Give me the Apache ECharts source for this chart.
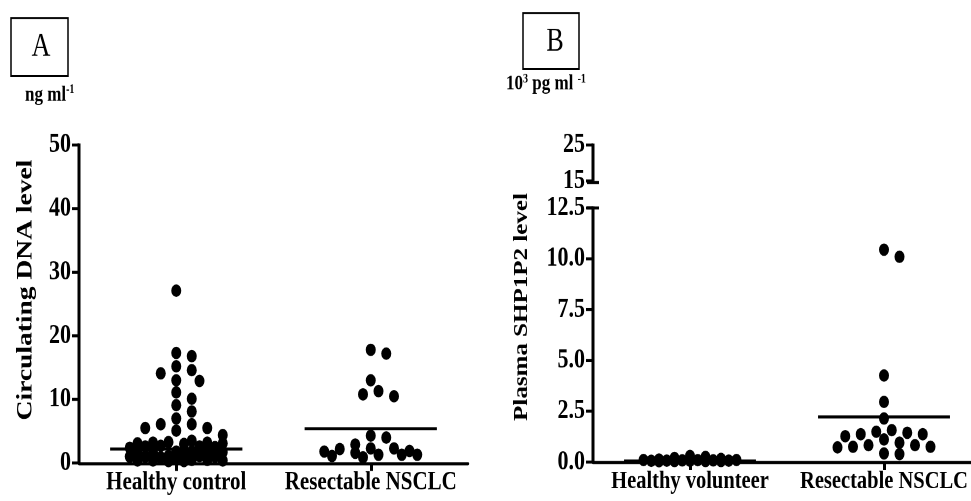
<!DOCTYPE html>
<html>
<head>
<meta charset="utf-8">
<script src="https://cdn.jsdelivr.net/npm/echarts@6/dist/echarts.min.js"></script>
<style>
  html, body { margin: 0; padding: 0; background: #fff; overflow: hidden; }
  #wrap { width: 971px; height: 501px; overflow: hidden; position: relative; }
  /* the figure is drawn 1.25x taller than wide, like the printed plate */
  #chart { width: 971px; height: 401px; transform: scaleY(1.25); transform-origin: 0 0; }
</style>
</head>
<body>
<div id="wrap"><div id="chart"></div></div>
<script>
// ---------------- data ----------------
const catsA = ['Healthy control', 'Resectable NSCLC'];
const healthyA = [27.1, 17.3, 16.8, 15.2, 14.6, 14.1, 13.0, 12.9, 11.1, 10.1, 9.1, 8.1, 7.0,
  6.1, 6.1, 5.5, 5.5, 5.1, 4.4, 3.5,
  3.3, 3.2, 3.1, 3.2, 3.0, 3.1,
  2.6, 2.5, 2.7, 2.4, 2.6,
  1.8, 1.7, 1.6, 1.8, 1.7, 1.5, 1.7,
  1.1, 1.0, 0.9, 1.0, 1.1, 0.8, 1.0,
  0.5, 0.4, 0.3, 0.4, 0.5, 0.3, 0.4];
const nsclcA = [17.8, 17.2, 13.0, 11.3, 10.8, 10.5, 4.3, 4.0, 2.9, 2.3, 2.3, 2.2, 1.9, 1.8,
  1.6, 1.3, 1.3, 1.3, 1.1, 0.9];
const meanA = [2.2, 5.4];
const ticksA = [0, 10, 20, 30, 40, 50];

const catsB = ['Healthy volunteer', 'Resectable NSCLC'];
const healthyB = [0.08, 0.05, 0.10, 0.06, 0.04, 0.12, 0.07, 0.05, 0.09, 0.20, 0.06, 0.08,
  0.15, 0.05, 0.07, 0.10, 0.30, 0.25];
const nsclcB = [10.45, 10.1, 4.26, 2.96, 2.14, 1.57, 1.49, 1.44, 1.37, 1.37, 1.27, 1.11, 0.95,
  0.83, 0.83, 0.75, 0.75, 0.72, 0.42, 0.39];
const meanB = [0.05, 2.22];
const ticksB = [0, 2.5, 5.0, 7.5, 10.0, 12.5];
const ticksBUpper = [15, 25];

// ---------------- layout (page pixels) ----------------
const S = 1.25;                 // vertical stretch of the drawing
const v = px => px / S;         // page y -> drawing y
const FONT = "'Liberation Serif', 'Times New Roman', serif";

const boxA  = { left: 79,  top: 145, width: 389, height: 318 };
const boxB  = { left: 593, top: 208, width: 388, height: 254 };
const boxBU = { left: 593, top: 145, width: 388, height: 36 };

function grid(b) {
  return { left: b.left, top: v(b.top), width: b.width, height: v(b.height),
           outerBoundsMode: 'none', containLabel: false };
}

// column-scatter placement: each point takes the nearest free slot beside the centre
function swarmOffsets(values, pxPerUnit) {
  const STEP = 15.5, AX = 15, AY = 12, HALF = 50;
  const cands = [0];
  for (let m = 1; m * STEP / 2 <= HALF; m++) cands.push(m * STEP / 2, -m * STEP / 2);
  const order = values.map((_, i) => i).sort((a, b) => values[b] - values[a]);
  const placed = [];
  const out = new Array(values.length);
  for (const i of order) {
    const y = values[i] * pxPerUnit;
    let best = 0, bestPen = Infinity;
    for (const c of cands) {
      let pen = 0;
      for (const p of placed) {
        const d = Math.hypot((c - p.x) / AX, (y - p.y) / AY);
        pen = Math.max(pen, 1 - d);
      }
      if (pen <= 0) { best = c; bestPen = 0; break; }
      if (pen < bestPen - 1e-9) { bestPen = pen; best = c; }
    }
    placed.push({ x: best, y });
    out[i] = best;
  }
  return out;
}

function dotData(groups, pxPerUnit) {
  const data = [];
  groups.forEach((vals, ci) => {
    const offs = swarmOffsets(vals, pxPerUnit);
    vals.forEach((val, i) => data.push([ci, val, offs[i]]));
  });
  return data;
}

const pxA = boxA.height / (ticksA[ticksA.length - 1] - ticksA[0]);
const pxB = boxB.height / (ticksB[ticksB.length - 1] - ticksB[0]);

function renderDot(params, api) {
  const p = api.coord([api.value(0), api.value(1)]);
  return { type: 'circle', shape: { cx: p[0] + api.value(2), cy: p[1], r: 5 },
           style: { fill: '#000' } };
}
function renderMean(params, api) {
  const p = api.coord([api.value(0), api.value(1)]);
  const half = api.size([1, 0])[0] * 0.34;
  return { type: 'line', shape: { x1: p[0] - half, y1: p[1], x2: p[0] + half, y2: p[1] },
           style: { stroke: '#000', lineWidth: 2.4 } };
}
// heavy vertical axis rule with outward ticks, placed by the value scale
function renderYRule(params, api) {
  const cs = params.coordSys;
  const ty = api.coord([0, api.value(1)])[1];
  const kids = [{ type: 'line', shape: { x1: cs.x - 7, y1: ty, x2: cs.x, y2: ty },
                  style: { stroke: '#000', lineWidth: 2.4 } }];
  if (params.dataIndex === 0) {
    kids.push({ type: 'line', shape: { x1: cs.x, y1: cs.y - 1.2, x2: cs.x, y2: cs.y + cs.height },
                style: { stroke: '#000', lineWidth: 3 } });
  }
  return { type: 'group', children: kids };
}

function yAxis(gi, ticks, fmt) {
  const ax = {
    type: 'value', gridIndex: gi,
    min: ticks[0], max: ticks[ticks.length - 1], interval: ticks[1] - ticks[0],
    axisLine: { show: false },
    axisTick: { show: false },
    axisLabel: { color: '#000', fontFamily: FONT, fontWeight: 'bold', fontSize: 22, margin: 8 },
    splitLine: { show: false }
  };
  if (fmt) ax.axisLabel.formatter = fmt;
  return ax;
}

function xAxis(gi, cats, fs, show) {
  return {
    type: 'category', gridIndex: gi, data: cats, show: show, boundaryGap: true,
    axisLine: { show: true, lineStyle: { color: '#000', width: 2.4 } },
    axisTick: { show: true, alignWithLabel: true, length: v(8), lineStyle: { color: '#000', width: 3 } },
    axisLabel: { interval: 0, color: '#000', fontFamily: FONT, fontWeight: 'bold', fontSize: fs, margin: 5 },
    splitLine: { show: false }
  };
}

function yRule(axisIdx, ticks) {
  return { type: 'custom', xAxisIndex: axisIdx, yAxisIndex: axisIdx, z: 4, silent: true,
           data: ticks.map(t => [0, t]), renderItem: renderYRule };
}

// small bars closing the two segments of the broken axis
function breakCap(yPage) {
  return { type: 'rect', shape: { x: boxB.left - 6, y: v(yPage - 1.5), width: 12, height: v(3) },
           style: { fill: '#000' } };
}

const chart = echarts.init(document.getElementById('chart'), null, { renderer: 'canvas', devicePixelRatio: 2 });

chart.setOption({
  animation: false,
  backgroundColor: '#fff',
  grid: [grid(boxA), grid(boxB), grid(boxBU)],
  xAxis: [
    xAxis(0, catsA, 21, true),
    xAxis(1, catsB, 20.5, true),
    xAxis(2, catsB, 20.5, false)
  ],
  yAxis: [
    yAxis(0, ticksA),
    yAxis(1, ticksB, val => val.toFixed(1)),
    yAxis(2, ticksBUpper)
  ],
  series: [
    yRule(0, ticksA),
    yRule(1, ticksB),
    yRule(2, ticksBUpper),
    { type: 'custom', name: 'meanA', xAxisIndex: 0, yAxisIndex: 0, z: 2,
      data: meanA.map((m, i) => [i, m]), renderItem: renderMean },
    { type: 'custom', name: 'dotsA', xAxisIndex: 0, yAxisIndex: 0, z: 3,
      data: dotData([healthyA, nsclcA], pxA), renderItem: renderDot },
    { type: 'custom', name: 'meanB', xAxisIndex: 1, yAxisIndex: 1, z: 2,
      data: meanB.map((m, i) => [i, m]), renderItem: renderMean },
    { type: 'custom', name: 'dotsB', xAxisIndex: 1, yAxisIndex: 1, z: 3,
      data: dotData([healthyB, nsclcB], pxB), renderItem: renderDot }
  ],
  graphic: [
    breakCap(boxB.top),
    breakCap(boxBU.top + boxBU.height + 1.5),
    { type: 'rect', shape: { x: 11, y: v(18), width: 57, height: v(58) },
      style: { fill: 'none', stroke: '#000', lineWidth: 1.5 } },
    { type: 'text', x: 41, y: v(47),
      style: { text: 'A', fontFamily: FONT, fontSize: 26, fill: '#000', align: 'center', verticalAlign: 'middle' } },
    { type: 'rect', shape: { x: 523, y: v(13), width: 56, height: v(56) },
      style: { fill: 'none', stroke: '#000', lineWidth: 1.5 } },
    { type: 'text', x: 555, y: v(42),
      style: { text: 'B', fontFamily: FONT, fontSize: 26, fill: '#000', align: 'center', verticalAlign: 'middle' } },
    { type: 'text', x: 25, y: v(95),
      style: {
        text: '{a|ng ml}{s|-1}', verticalAlign: 'middle', fill: '#000',
        rich: {
          a: { fontFamily: FONT, fontWeight: 'bold', fontSize: 17, lineHeight: 18 },
          s: { fontFamily: FONT, fontWeight: 'bold', fontSize: 10, verticalAlign: 'top', lineHeight: 12 }
        }
      } },
    { type: 'text', x: 506, y: v(84),
      style: {
        text: '{a|10}{s|3}{a| pg ml }{s|-1}', verticalAlign: 'middle', fill: '#000',
        rich: {
          a: { fontFamily: FONT, fontWeight: 'bold', fontSize: 17, lineHeight: 18 },
          s: { fontFamily: FONT, fontWeight: 'bold', fontSize: 10, verticalAlign: 'top', lineHeight: 12 }
        }
      } },
    { type: 'text', x: 26, y: v(290), rotation: Math.PI / 2,
      style: { text: 'Circulating DNA level', fontFamily: FONT, fontWeight: 'bold', fontSize: 22,
               fill: '#000', align: 'center', verticalAlign: 'middle' } },
    { type: 'text', x: 522, y: v(307), rotation: Math.PI / 2,
      style: { text: 'Plasma SHP1P2 level', fontFamily: FONT, fontWeight: 'bold', fontSize: 20,
               fill: '#000', align: 'center', verticalAlign: 'middle' } }
  ]
});
</script>
</body>
</html>
